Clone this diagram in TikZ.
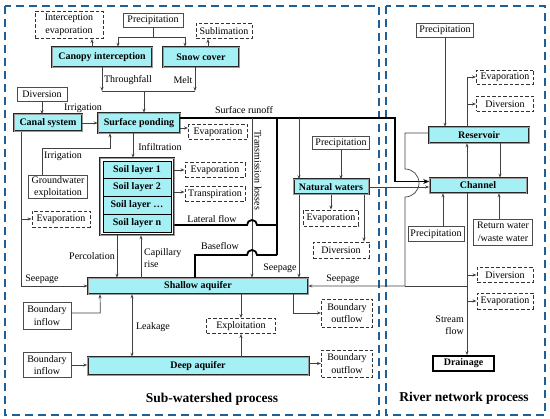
\documentclass[tikz,border=0pt]{standalone}
\usepackage{fontspec}
\setmainfont{Liberation Serif}
\usetikzlibrary{arrows.meta,calc}
\definecolor{cyanfill}{RGB}{165,240,245}
\definecolor{frameblue}{RGB}{30,96,150}
\begin{document}
\begin{tikzpicture}[x=1pt,y=-1pt,
 every node/.style={font=\fontsize{10}{12.5}\selectfont, inner sep=1pt},
 proc/.style={draw=black!85, line width=0.6pt, double=black!40, double distance=0.8pt, fill=cyanfill, font=\fontsize{10}{12}\selectfont\bfseries},
 plainbox/.style={draw=black!70, line width=0.7pt, fill=white, align=center},
 dbox/.style={draw=black!80, line width=0.9pt, dash pattern=on 3.5pt off 2pt, fill=white, align=center},
 soilouter/.style={draw=black!85, line width=0.6pt, double=black!40, double distance=0.8pt, fill=white},
 soilrow/.style={draw=black, line width=0.7pt, fill=cyanfill, font=\fontsize{10}{12}\selectfont\bfseries},
 drainbox/.style={draw=black, line width=1.6pt, fill=white, font=\fontsize{10}{12}\selectfont\bfseries},
 ln/.style={draw=black!75, line width=0.7pt},
 arr/.style={ln, -{Stealth[length=4pt,width=3pt]}},
 arrb/.style={ln, {Stealth[length=4pt,width=3pt]}-{Stealth[length=4pt,width=3pt]}},
 thk/.style={draw=black, line width=1.8pt},
 thkarr/.style={thk, -{Stealth[length=6pt,width=5pt]}},
 lbl/.style={align=center},
 title/.style={font=\fontsize{13.5}{16}\selectfont\bfseries},
 frame/.style={draw=frameblue, line width=1.8pt, dash pattern=on 8pt off 5pt}]

\useasboundingbox (0,0) rectangle (550,419);
\draw[frame] (5,6) rectangle (379,415);
\draw[frame] (386,6) rectangle (545,415);

% ---------- left nodes ----------
\node[plainbox, minimum width=60pt, minimum height=14pt] (prec1) at (153,20) {Precipitation};
\node[dbox, minimum width=68pt, minimum height=27pt] (ievap) at (69,25) {Interception\\evaporation};
\node[proc, minimum width=100pt, minimum height=20pt] (canopy) at (102,57) {Canopy interception};
\node[proc, minimum width=76pt, minimum height=20pt] (snow) at (201,57) {Snow cover};
\node[dbox, minimum width=56pt, minimum height=15pt] (subl) at (224,31) {Sublimation};
\node[plainbox, minimum width=50pt, minimum height=14pt] (div1) at (42,94) {Diversion};
\node[proc, minimum width=68pt, minimum height=17pt] (canal) at (48,123) {Canal system};
\node[proc, minimum width=82pt, minimum height=20pt] (pond) at (139,123) {Surface ponding};
\node[dbox, minimum width=59pt, minimum height=15pt] (ev1) at (218,132) {Evaporation};

\node[soilouter, minimum width=74pt, minimum height=77pt] (soil) at (137,196.5) {};
\node[soilrow, minimum width=68pt, minimum height=17.75pt] (s1) at (137,169.9) {Soil layer 1};
\node[soilrow, minimum width=68pt, minimum height=17.75pt] (s2) at (137,187.6) {Soil layer 2};
\node[soilrow, minimum width=68pt, minimum height=17.75pt] (s3) at (137,205.4) {Soil layer \dots};
\node[soilrow, minimum width=68pt, minimum height=17.75pt] (s4) at (137,223.1) {Soil layer n};

\node[plainbox, minimum width=59pt, minimum height=23pt] (gwe) at (58,187) {Groundwater\\exploitation};
\node[dbox, minimum width=58pt, minimum height=16pt] (ev2) at (61,219) {Evaporation};
\node[dbox, minimum width=60pt, minimum height=15pt] (ev3) at (215,170) {Evaporation};
\node[dbox, minimum width=60pt, minimum height=15pt] (trans) at (215,194) {Transpiration};
\node[plainbox, minimum width=57pt, minimum height=13pt] (prec2) at (341,143) {Precipitation};
\node[proc, minimum width=75pt, minimum height=15pt] (natw) at (331,187) {Natural waters};
\node[dbox, minimum width=55pt, minimum height=16pt] (ev4) at (331,218) {Evaporation};
\node[dbox, minimum width=56pt, minimum height=16pt] (div2) at (341,250) {Diversion};
\node[proc, minimum width=220pt, minimum height=16pt] (shallow) at (198,286) {Shallow aquifer};
\node[plainbox, minimum width=48pt, minimum height=27pt] (bin1) at (47,315.5) {Boundary\\inflow};
\node[plainbox, minimum width=48pt, minimum height=25pt] (bin2) at (47,365) {Boundary\\inflow};
\node[proc, minimum width=221pt, minimum height=18pt] (deep) at (198,366) {Deep aquifer};
\node[dbox, minimum width=69pt, minimum height=15pt] (expl) at (241,326) {Exploitation};
\node[dbox, minimum width=51pt, minimum height=28pt] (bout1) at (347,313) {Boundary\\outflow};
\node[dbox, minimum width=51pt, minimum height=27pt] (bout2) at (347,363.5) {Boundary\\outflow};

% ---------- right nodes ----------
\node[plainbox, minimum width=57pt, minimum height=14pt] (prec3) at (445,30) {Precipitation};
\node[dbox, minimum width=57pt, minimum height=14pt] (ev5) at (505,77) {Evaporation};
\node[dbox, minimum width=57pt, minimum height=15pt] (div3) at (505,104) {Diversion};
\node[proc, minimum width=100pt, minimum height=16pt] (res) at (479,135) {Reservoir};
\node[proc, minimum width=97pt, minimum height=15pt] (chan) at (478,185.5) {Channel};
\node[plainbox, minimum width=56pt, minimum height=15pt] (prec4) at (436,234) {Precipitation};
\node[plainbox, minimum width=59pt, minimum height=26pt] (ret) at (503,232) {Return water\\/waste water};
\node[dbox, minimum width=56pt, minimum height=15pt] (div4) at (505,275) {Diversion};
\node[dbox, minimum width=56pt, minimum height=16pt] (ev6) at (505,301) {Evaporation};
\node[drainbox, minimum width=61pt, minimum height=15pt] (drain) at (463.5,363.5) {Drainage};

% ---------- connectors (left) ----------
\draw[arr] (prec1.south) -- ++(0,10) -| ([xshift=16pt]canopy.north);
\draw[arr] (prec1.south) -- ++(0,10) -| ([xshift=-16pt]snow.north);
\coordinate (c1) at ([xshift=-10pt]canopy.north);
\draw[arr] (c1) -- (c1 |- ievap.south);
\coordinate (sn1) at ([xshift=7pt]snow.north);
\draw[arr] (sn1) -- (sn1 |- subl.south);
\coordinate (tj) at (144,91);
\draw[arr] (canopy.south) -- (canopy.south |- tj);
\coordinate (sn2) at ([xshift=-6pt]snow.south);
\draw[arr] (sn2) -- (sn2 |- tj);
\draw[ln] (canopy.south |- tj) -- (sn2 |- tj);
\draw[arr] (tj) -- (tj |- pond.north);
\draw[arr] (div1.south) -- (div1.south |- canal.north);
\draw[arr] (canal.east) -- (pond.west);
\coordinate (pe) at ([yshift=-5pt]pond.east);
\draw[arr] (pe) -- (pe -| ev1.west);

% surface runoff (thick)
\coordinate (sr0) at ([yshift=5pt]pond.east);
\draw[thkarr] (sr0) -- (395,118) |- ([yshift=4pt]chan.west);
% transmission losses
\draw[arr] (252,118) -- (252,118 |- shallow.north);
% to natural waters
\draw[arr] (299,118) -- (299,118 |- natw.north);
\draw[arr] (prec2.south) -- (prec2.south |- natw.north);
\draw[arr] (natw.south) -- (ev4.north);
\coordinate (n3) at ([xshift=33pt]natw.south);
\draw[arr] (n3) -- (n3 |- div2.north);
\coordinate (n1) at ([xshift=-32pt]natw.south);
\draw[arr] (n1) -- (n1 |- shallow.north);
\draw[arr] (natw.east) -- (natw.east -| chan.west);

% seepage from reservoir / channel to shallow aquifer (with hop)
\draw[arr] ([yshift=2pt]res.west) -- (405,133) -- (405,169) arc[start angle=90,end angle=-90,radius=14pt] -- (405,286) -- (shallow.east);

% canal seepage & evaporation
\coordinate (k1) at ([xshift=-27pt]canal.south);
\draw[arr] (k1) -- (k1 |- shallow.west) -- (shallow.west);
\draw[arr] (k1 |- ev2.west) -- (ev2.west);

% groundwater exploitation irrigation
\coordinate (g1) at ([xshift=-16pt]gwe.north);
\draw[arr] (g1) -- (g1 |- 0,148) -| ([xshift=-29pt]pond.south);
% infiltration
\coordinate (p1) at ([xshift=-6pt]pond.south);
\draw[arr] (p1) -- (p1 |- soil.north);
\draw[arr] (soil.east |- ev3.west) -- (ev3.west);
\draw[arr] (soil.east |- 0,192) -- (trans.west |- 0,192);

% lateral flow and baseflow (thick)
\draw[thk] (soil.east |- 0,225) -- (247,225) arc[start angle=180,end angle=0,radius=5pt] -- (277,225);
\draw[thk] (277,118) -- (277,255);
\draw[thk] (shallow.north -| 195,0) -- (195,255) -- (247,255) arc[start angle=180,end angle=0,radius=5pt] -- (277,255);

% percolation / capillary rise
\draw[arr] (soil.south -| 117,0) -- (shallow.north -| 117,0);
\draw[arr] (shallow.north -| 141,0) -- (soil.south -| 141,0);

% aquifers
\draw[arr] ([yshift=2.5pt]bin1.east) -- ++(29,0) -- (shallow.south -| 100,0);
\draw[arrb] (shallow.south -| 132,0) -- (deep.north -| 132,0);
\draw[arr] (bin2.east) -- (bin2.east -| deep.west);
\draw[arr] (shallow.south -| expl.north) -- (expl.north);
\draw[arr] (deep.north -| expl.south) -- (expl.south);
\draw[arr] (shallow.south -| 293,0) |- (bout1.west);
\draw[arr] (deep.east |- bout2.west) -- (bout2.west);

% ---------- connectors (right) ----------
\draw[arr] (prec3.south) -- (prec3.south |- res.north);
\coordinate (r1) at ([xshift=-12pt]res.north);
\draw[ln] (r1) -- (r1 |- ev5.west);
\draw[arr] (r1 |- ev5.west) -- (ev5.west);
\draw[arr] (r1 |- div3.west) -- (div3.west);
\draw[arr] (r1 |- chan.north) -- (r1 |- res.south);
\coordinate (r2) at ([xshift=21pt]res.south);
\draw[arr] (r2) -- (r2 |- chan.north);
\coordinate (p4) at ([xshift=7pt]prec4.north);
\draw[arr] (p4) -- (p4 |- chan.south);
\coordinate (rw) at ([xshift=-4pt]ret.north);
\draw[arr] (rw) -- (rw |- chan.south);
\coordinate (cs) at ([xshift=-11pt]chan.south);
\draw[arr] (cs) -- (cs |- drain.north);
\draw[arr] (cs |- div4.west) -- (div4.west);
\draw[arr] (cs |- ev6.west) -- (ev6.west);
\draw[ln] (cs |- 0,286) -- (405,286);

% ---------- labels ----------
\node[lbl] (lthrough) at (128,80) {Throughfall};
\node[lbl] (lmelt) at (183,80) {Melt};
\node[lbl] (lirr1) at (83,108) {Irrigation};
\node[lbl] (lrunoff) at (244,110) {Surface runoff};
\node[lbl] (linf) at (160,147) {Infiltration};
\node[lbl] (lirr2) at (63,156) {Irrigation};
\node[lbl, rotate=-90] (ltrans) at (258,170) {Transmission losses};
\node[lbl] (llat) at (212,219) {Lateral flow};
\node[lbl] (lbase) at (220,246) {Baseflow};
\node[lbl] (lperc) at (92,256) {Percolation};
\node[align=left, anchor=west] (lcap) at (143,258) {Capillary\\rise};
\node[lbl] (lseep1) at (42,279) {Seepage};
\node[lbl] (lseep2) at (280,268) {Seepage};
\node[lbl] (lseep3) at (343,279) {Seepage};
\node[lbl] (lleak) at (153,327) {Leakage};
\node[align=right, anchor=east] (lstream) at (465,325) {Stream\\flow};
\node[title] (t1) at (212,399) {Sub-watershed process};
\node[title] (t2) at (464,398) {River network process};
\end{tikzpicture}
\end{document}
